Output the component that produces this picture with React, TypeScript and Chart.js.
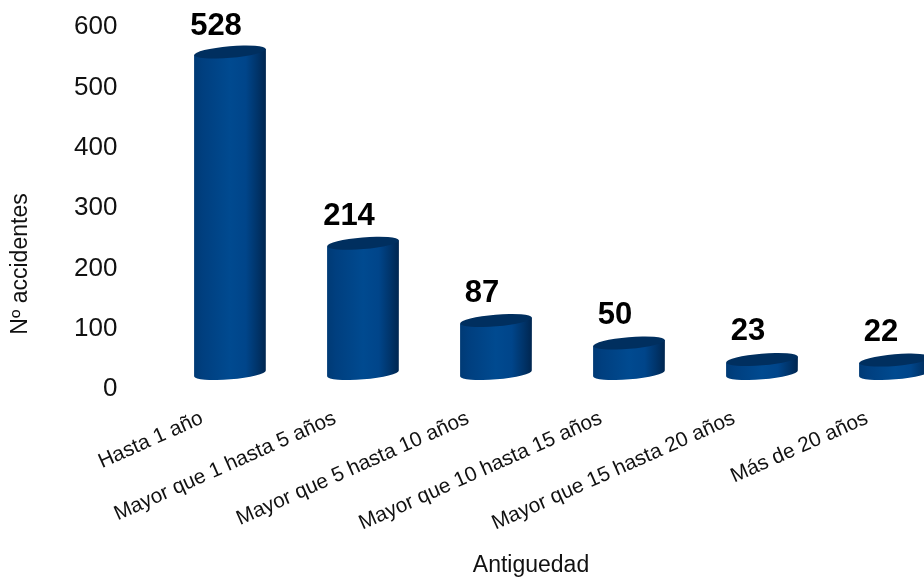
import React, { useEffect, useRef } from "react";
import { Chart, registerables } from "chart.js";

Chart.register(...registerables);

const categories = [
  "Hasta 1 año",
  "Mayor que 1 hasta 5 años",
  "Mayor que 5 hasta 10 años",
  "Mayor que 10 hasta 15 años",
  "Mayor que 15 hasta 20 años",
  "Más de 20 años",
];
const accidentes = [528, 214, 87, 50, 23, 22];
const yTitle = "Nº accidentes";
const xTitle = "Antiguedad";

const FONT = "'Liberation Sans', Arial, sans-serif";
const DEPTH = 15.5;
const TILT = -4.8 * (Math.PI / 180);

const cylinders = {
  id: "cylinders",
  beforeDatasetDraw(chart: any, args: any) {
    const ctx = chart.ctx;
    const meta = chart.getDatasetMeta(args.index);
    meta.data.forEach((bar: any, i: number) => {
      const cx = bar.x;
      const rx = bar.width / 2;
      const ry = 5.8;
      const dy = rx * Math.sin(TILT);
      const baseY = bar.base - DEPTH;
      const topY = bar.y - DEPTH - (bar.base - bar.y) * 0.009;
      const g = ctx.createLinearGradient(cx - rx, 0, cx + rx, 0);
      g.addColorStop(0, "#003a75");
      g.addColorStop(0.12, "#003f7f");
      g.addColorStop(0.5, "#004a90");
      g.addColorStop(0.72, "#00458a");
      g.addColorStop(0.88, "#00346a");
      g.addColorStop(1, "#002650");
      ctx.save();
      ctx.beginPath();
      ctx.moveTo(cx - rx, topY - dy);
      ctx.lineTo(cx - rx, baseY - dy);
      ctx.ellipse(cx, baseY, rx, ry, TILT, Math.PI, 0, true);
      ctx.lineTo(cx + rx, topY + dy);
      ctx.closePath();
      ctx.fillStyle = g;
      ctx.fill();
      ctx.beginPath();
      ctx.ellipse(cx, topY, rx, ry, TILT, 0, Math.PI * 2);
      ctx.fillStyle = "#002f5f";
      ctx.fill();
      ctx.fillStyle = "#000";
      ctx.font = `bold 31px ${FONT}`;
      ctx.textAlign = "center";
      ctx.textBaseline = "middle";
      ctx.fillText(String(accidentes[i]), cx - 14, bar.y - DEPTH - 28);
      ctx.restore();
    });
    return false;
  },
  afterDraw(chart: any) {
    const ctx = chart.ctx;
    ctx.save();
    ctx.fillStyle = "#111";
    ctx.font = `23px ${FONT}`;
    ctx.textAlign = "center";
    ctx.textBaseline = "middle";
    ctx.fillText(xTitle, 531, 566);
    ctx.translate(20.5, 264);
    ctx.rotate(-Math.PI / 2);
    ctx.fillText(yTitle, 0, 0);
    ctx.restore();
  },
};

export default function App() {
  const ref = useRef<HTMLCanvasElement>(null);
  useEffect(() => {
    document.body.style.margin = "0";
    const chart = new Chart(ref.current!, {
      type: "bar",
      data: {
        labels: categories,
        datasets: [
          {
            data: accidentes,
            backgroundColor: "#004a90",
            barPercentage: 0.75,
            categoryPercentage: 0.72,
          },
        ],
      },
      options: {
        animation: false,
        responsive: false,
        devicePixelRatio: 1,
        layout: { padding: { top: 27, right: 38.5, bottom: 0, left: 0 } },
        plugins: { legend: { display: false }, tooltip: { enabled: false } },
        scales: {
          x: {
            grid: { display: false, drawTicks: false },
            border: { display: false },
            afterFit: (s: any) => {
              s.height = 581 - 389;
            },
            ticks: {
              color: "#111",
              font: { family: FONT, size: 20.8 },
              minRotation: 24,
              maxRotation: 24,
              labelOffset: -28,
              padding: 17,
              autoSkip: false,
            },
          },
          y: {
            min: 0,
            max: 600,
            grid: { display: false, drawTicks: false },
            border: { display: false },
            afterFit: (s: any) => {
              s.width = 163.5;
              s.paddingTop = 0;
              s.paddingBottom = 0;
            },
            ticks: {
              color: "#111",
              stepSize: 100,
              font: { family: FONT, size: 26 },
              padding: 46,
            },
          },
        },
      },
      plugins: [cylinders],
    } as any);
    return () => chart.destroy();
  }, []);
  return (
    <div style={{ width: 924, height: 581, overflow: "hidden", position: "relative", background: "#fff" }}>
      <canvas ref={ref} width={1000} height={581} style={{ display: "block" }} />
    </div>
  );
}
